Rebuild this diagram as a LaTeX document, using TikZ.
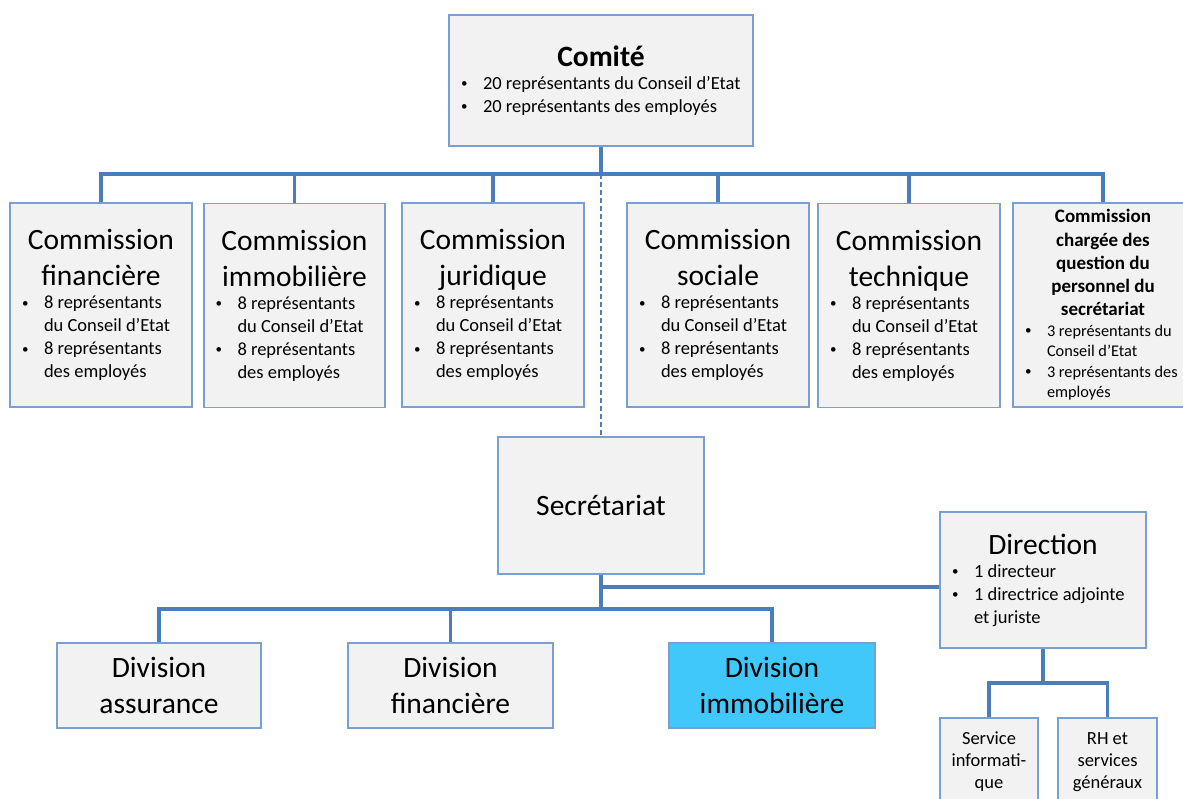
\documentclass[tikz,border=0pt]{standalone}
\usepackage{fontspec}
\setmainfont{Carlito}
\definecolor{boxfill}{HTML}{F2F2F2}
\definecolor{boxline}{HTML}{7A9FD3}
\definecolor{conn}{HTML}{4A7EBB}
\definecolor{cyanfill}{HTML}{40C8FA}
\tikzset{
  box/.style={draw=boxline, fill=boxfill, line width=1.3pt, inner sep=0pt, anchor=center},
  link/.style={draw=conn, line width=3.2pt},
  dashlink/.style={draw=conn, line width=2.5pt, dash pattern=on 5pt off 3pt},
}
\newcommand{\tit}{\fontsize{29.5}{36}\selectfont}
\newcommand{\sm}{\fontsize{18.5}{23}\selectfont}
\newcommand{\smc}{\fontsize{16.3}{20.5}\selectfont}
\newcommand{\mybul}{{\fontsize{13}{13}\selectfont\raisebox{1.5pt}{\textbullet}}}
\newcommand{\bitem}[1]{\par\hangindent=26pt\hangafter=1\noindent\makebox[26pt][l]{\hspace{4pt}\mybul}#1}
\newcommand{\combody}[1]{\parbox{166pt}{\centering\tit #1\par\raggedright\sm
  \bitem{8 représentants\newline du Conseil d’Etat}
  \bitem{8 représentants\newline des employés}\par}}
\begin{document}
\begin{tikzpicture}[x=1pt,y=-1pt]
\useasboundingbox (0,0) rectangle (1183,799);
\clip (0,0) rectangle (1183,799);
% Comite
\node[box, minimum width=304, minimum height=131] (comite) at (601,80.5)
  {\parbox{288pt}{\centering\tit{\bfseries Comité}\par\raggedright\sm
   \bitem{20 représentants du Conseil d’Etat}
   \bitem{20 représentants des employés}\par}};
% Commissions
\node[box, minimum width=182, minimum height=204] (c1) at (101,305) {\combody{Commission\\financière}};
\node[box, minimum width=181, minimum height=204] (c2) at (294.5,305.5) {\combody{Commission\\immobilière}};
\node[box, minimum width=182, minimum height=204] (c3) at (493,305) {\combody{Commission\\juridique}};
\node[box, minimum width=182, minimum height=204] (c4) at (718,305) {\combody{Commission\\sociale}};
\node[box, minimum width=182, minimum height=204] (c5) at (909,305.5) {\combody{Commission\\technique}};
\node[box, minimum width=180, minimum height=204] (c6) at (1103,305)
  {\parbox{164pt}{\centering\fontsize{19}{23.2}\selectfont{\bfseries Commission\\chargée des\\question du\\personnel du\\secrétariat}\par\raggedright\smc
   \bitem{3 représentants du\newline Conseil d’Etat}
   \bitem{3 représentants des\newline employés}\par}};
% Secretariat
\node[box, minimum width=206, minimum height=137] (sec) at (601,505.5) {\tit Secrétariat};
% Direction
\node[box, minimum width=206, minimum height=136] (dir) at (1043,580)
  {\parbox{190pt}{\centering\tit Direction\par\raggedright\sm
   \bitem{1 directeur}
   \bitem{1 directrice adjointe\newline et juriste}\par}};
% Divisions
\node[box, minimum width=204, minimum height=85] (d1) at (159,685.5) {\parbox{190pt}{\centering\tit Division\\assurance}};
\node[box, minimum width=205, minimum height=85] (d2) at (450.5,685.5) {\parbox{190pt}{\centering\tit Division\\financière}};
\node[box, fill=cyanfill, minimum width=206, minimum height=85] (d3) at (772,685.5) {\parbox{190pt}{\centering\tit Division\\immobilière}};
% Services
\node[box, minimum width=98, minimum height=88] (s1) at (989,762) {\parbox{90pt}{\centering\fontsize{18.5}{22}\selectfont Service\\informati-\\que}};
\node[box, minimum width=99, minimum height=88] (s2) at (1107.5,762) {\parbox{90pt}{\centering\fontsize{18.5}{22}\selectfont RH et\\services\\généraux}};
% connectors top
\coordinate (bus) at (601,174);
\draw[link] (comite.south) -- (bus);
\draw[link] (c1.north) |- (bus);
\draw[link] (c2.north) |- (bus);
\draw[link] (c3.north) |- (bus);
\draw[link] (c4.north) |- (bus);
\draw[link] (c5.north) |- (bus);
\draw[link] (c6.north) |- (bus);
\draw[dashlink] (bus) -- (sec.north);
% secretariat connectors
\coordinate (br) at (601,587);
\coordinate (bus2) at (601,609);
\draw[link] (sec.south) -- (bus2);
\draw[link] (br) -- (br -| dir.west);
\draw[link] (d1.north) |- (bus2);
\draw[link] (d2.north) |- (bus2);
\draw[link] (d3.north) |- (bus2);
% direction connectors
\coordinate (bus3) at (1043,683);
\draw[link] (dir.south) -- (bus3);
\draw[link] (s1.north) |- (bus3);
\draw[link] (s2.north) |- (bus3);
\end{tikzpicture}
\end{document}
